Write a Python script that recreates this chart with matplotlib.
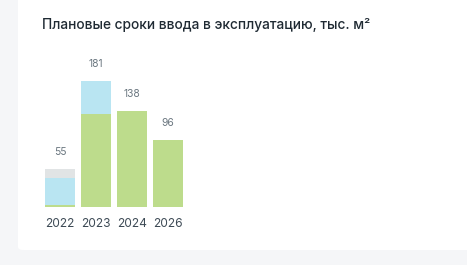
import matplotlib.pyplot as plt
from matplotlib.patches import FancyBboxPatch

# данные
years = ["2022", "2023", "2024", "2026"]
green = [3, 134, 138, 96]
blue = [39, 47, 0, 0]
grey = [13, 0, 0, 0]
totals = [55, 181, 138, 96]

c_green = "#bddc8c"
c_blue = "#b9e5f2"
c_grey = "#e1e4e5"

W, H = 467, 265
fig = plt.figure(figsize=(W / 100, H / 100), dpi=100)
fig.patch.set_facecolor("#f5f6f8")

# белая карточка
card = FancyBboxPatch((18 / W, 15 / H), 1.2, 1.2, boxstyle="round,pad=0,rounding_size=0.012",
                      transform=fig.transFigure, facecolor="white", edgecolor="none", zorder=-5)
fig.patches.append(card)

fig.text(42 / W, 1 - 25 / H, "Плановые сроки ввода в эксплуатацию, тыс. м²",
         fontsize=9.9, fontweight="medium", family=["Inter", "DejaVu Sans"],
         color="#1f2a33", va="center", ha="left")

# оси: основание на 207 px, ширина столбцов 30 px, шаг 36 px
ax = fig.add_axes([45 / W, 58 / H, 138 / W, 139 / H])
ax.set_zorder(2)
ax.patch.set_visible(False)
ax.set_xlim(-0.4167, 3.4167)
ax.set_ylim(0, 200)
ax.axis("off")

x = range(len(years))
w = 30 / 36
ax.bar(x, green, width=w, color=c_green)
ax.bar(x, blue, width=w, bottom=green, color=c_blue)
bottoms = [g + b for g, b in zip(green, blue)]
ax.bar(x, grey, width=w, bottom=bottoms, color=c_grey)

for i, t in enumerate(totals):
    ax.annotate(str(t), (i, t), xytext=(0, 12.2), textcoords="offset points",
                ha="center", va="center", fontsize=7.4, color="#6b7780",
                family=["Inter", "DejaVu Sans"])
    ax.annotate(years[i], (i, 0), xytext=(0, -12), textcoords="offset points",
                ha="center", va="center", fontsize=8.6, color="#3d4a55",
                family=["Inter", "DejaVu Sans"], annotation_clip=False)

fig.savefig("out.png", dpi=100, facecolor=fig.get_facecolor())
